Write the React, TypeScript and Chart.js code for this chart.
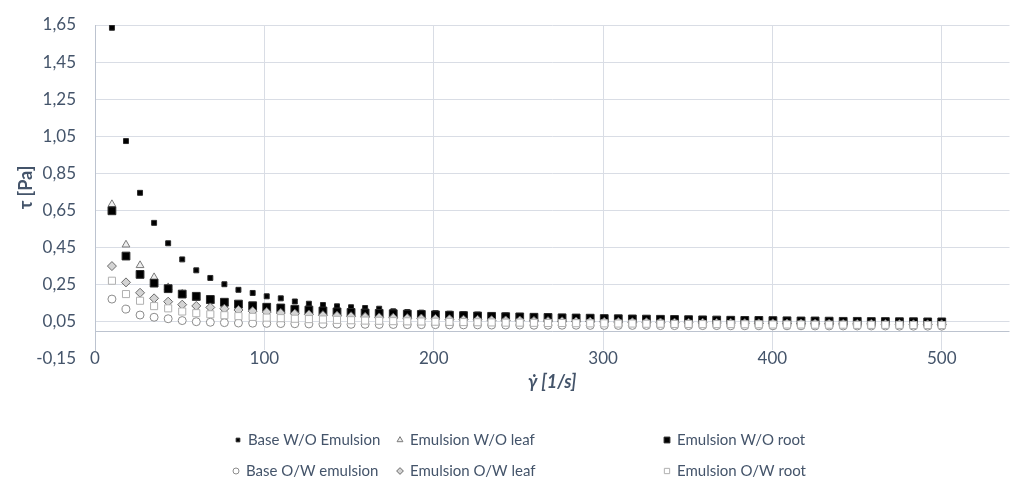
import React, { useEffect, useRef } from 'react';
import { Chart, registerables } from 'chart.js';
import { drawPoint } from 'chart.js/helpers';

Chart.register(...registerables);

const shearRate = [10, 18.3, 26.6, 34.9, 43.2, 51.5, 59.8, 68.1, 76.4, 84.7, 93.1, 101.4, 109.7, 118, 126.3, 134.6, 142.9, 151.2, 159.5, 167.8, 176.1, 184.4, 192.7, 201, 209.3, 217.6, 225.9, 234.2, 242.5, 250.8, 259.2, 267.5, 275.8, 284.1, 292.4, 300.7, 309, 317.3, 325.6, 333.9, 342.2, 350.5, 358.8, 367.1, 375.4, 383.7, 392, 400.3, 408.6, 416.9, 425.2, 433.5, 441.8, 450.1, 458.4, 466.7, 475, 483.3, 491.7, 500];

const baseWO = [1.635, 1.024, 0.745, 0.583, 0.473, 0.386, 0.327, 0.286, 0.252, 0.222,
  0.205, 0.187, 0.176, 0.159, 0.147, 0.14, 0.133, 0.128, 0.124, 0.12,
  0.106, 0.102, 0.099, 0.096, 0.093, 0.09, 0.088, 0.086, 0.083, 0.081,
  0.079, 0.078, 0.076, 0.074, 0.072, 0.071, 0.07, 0.068, 0.067, 0.066,
  0.065, 0.064, 0.063, 0.062, 0.061, 0.06, 0.059, 0.058, 0.057, 0.057,
  0.056, 0.055, 0.054, 0.054, 0.053, 0.052, 0.052, 0.051, 0.051, 0.05];

const leafWO = [0.683, 0.465, 0.354, 0.289, 0.235, 0.2, 0.177, 0.16, 0.146, 0.135,
  0.126, 0.118, 0.111, 0.105, 0.1, 0.095, 0.091, 0.087, 0.084, 0.081,
  0.078, 0.075, 0.073, 0.071, 0.069, 0.067, 0.065, 0.064, 0.062, 0.061,
  0.059, 0.058, 0.057, 0.056, 0.055, 0.054, 0.053, 0.052, 0.051, 0.05,
  0.049, 0.049, 0.048, 0.047, 0.047, 0.046, 0.045, 0.045, 0.044, 0.044,
  0.043, 0.043, 0.042, 0.042, 0.041, 0.041, 0.04, 0.04, 0.04, 0.039];

const rootWO = [0.648, 0.404, 0.305, 0.258, 0.228, 0.199, 0.187, 0.17, 0.155, 0.145,
  0.136, 0.128, 0.124, 0.117, 0.113, 0.108, 0.103, 0.1, 0.097, 0.095,
  0.093, 0.091, 0.089, 0.087, 0.085, 0.083, 0.081, 0.079, 0.077, 0.076,
  0.074, 0.073, 0.071, 0.07, 0.069, 0.067, 0.066, 0.065, 0.064, 0.063,
  0.062, 0.061, 0.06, 0.059, 0.058, 0.057, 0.057, 0.056, 0.055, 0.054,
  0.054, 0.053, 0.052, 0.052, 0.051, 0.051, 0.05, 0.05, 0.049, 0.049];

const baseOW = [0.172, 0.118, 0.086, 0.074, 0.066, 0.056, 0.05, 0.047, 0.045, 0.043,
  0.042, 0.041, 0.04, 0.039, 0.038, 0.037, 0.037, 0.036, 0.036, 0.035,
  0.035, 0.034, 0.034, 0.034, 0.033, 0.033, 0.033, 0.032, 0.032, 0.032,
  0.031, 0.031, 0.031, 0.031, 0.03, 0.03, 0.03, 0.03, 0.03, 0.029,
  0.029, 0.029, 0.029, 0.029, 0.028, 0.028, 0.028, 0.028, 0.028, 0.028,
  0.027, 0.027, 0.027, 0.027, 0.027, 0.027, 0.026, 0.026, 0.026, 0.026];

const leafOW = [0.35, 0.262, 0.206, 0.176, 0.158, 0.142, 0.135, 0.127, 0.12, 0.113,
  0.107, 0.102, 0.097, 0.093, 0.089, 0.085, 0.082, 0.079, 0.076, 0.073,
  0.071, 0.069, 0.067, 0.065, 0.063, 0.061, 0.06, 0.058, 0.057, 0.056,
  0.054, 0.053, 0.052, 0.051, 0.05, 0.049, 0.048, 0.047, 0.047, 0.046,
  0.045, 0.044, 0.044, 0.043, 0.043, 0.042, 0.041, 0.041, 0.04, 0.04,
  0.039, 0.039, 0.038, 0.038, 0.038, 0.037, 0.037, 0.036, 0.036, 0.036];

const rootOW = [0.271, 0.199, 0.163, 0.134, 0.122, 0.105, 0.096, 0.09, 0.085, 0.08,
  0.076, 0.072, 0.069, 0.066, 0.064, 0.062, 0.06, 0.058, 0.056, 0.055,
  0.053, 0.052, 0.051, 0.05, 0.049, 0.048, 0.047, 0.046, 0.045, 0.045,
  0.044, 0.043, 0.043, 0.042, 0.041, 0.041, 0.04, 0.04, 0.039, 0.039,
  0.038, 0.038, 0.037, 0.037, 0.037, 0.036, 0.036, 0.035, 0.035, 0.035,
  0.034, 0.034, 0.034, 0.033, 0.033, 0.033, 0.033, 0.032, 0.032, 0.032];

const seriesNames = ['Base W/O Emulsion', 'Emulsion W/O leaf', 'Emulsion W/O root', 'Base O/W emulsion', 'Emulsion O/W leaf', 'Emulsion O/W root'];
const seriesValues = [baseWO, leafWO, rootWO, baseOW, leafOW, rootOW];
const yTicks = [-0.15, 0.05, 0.25, 0.45, 0.65, 0.85, 1.05, 1.25, 1.45, 1.65];
const xTicks = [0, 100, 200, 300, 400, 500];

const TEXT = '#44546a';
const FONT = "Lato, 'Open Sans', sans-serif";
const GRID = '#d9dde5';
const AXIS = '#bcc3cf';

const markerStyles = [
  { pointStyle: 'rect', radius: 3.5, bg: '#000000', border: '#2a2a2a', bw: 1 },
  { pointStyle: 'triangle', radius: 4.5, bg: '#eeeeee', border: '#7a7a7a', bw: 1 },
  { pointStyle: 'rect', radius: 5.5, bg: '#000000', border: '#2a2a2a', bw: 1 },
  { pointStyle: 'circle', radius: 4, bg: '#ffffff', border: '#8c8c8c', bw: 1 },
  { pointStyle: 'rectRot', radius: 4.5, bg: '#d4d4d4', border: '#6a6a6a', bw: 1 },
  { pointStyle: 'rect', radius: 5, bg: '#ffffff', border: '#b0b0b0', bw: 1 },
];

const legendSlots = [[238, 440], [400, 440], [667, 440], [236, 471], [400, 471], [667, 471]];

const zeroLinePlugin = {
  id: 'zeroLine',
  beforeDatasetsDraw(chart: any) {
    const { ctx, chartArea, scales } = chart;
    const py = Math.round(scales.y.getPixelForValue(0)) + 0.5;
    ctx.save();
    ctx.strokeStyle = AXIS;
    ctx.lineWidth = 1;
    ctx.beginPath();
    ctx.moveTo(chartArea.left, py);
    ctx.lineTo(chartArea.right, py);
    ctx.stroke();
    ctx.restore();
  },
};

const gridLegendPlugin = {
  id: 'gridLegend',
  afterDraw(chart: any) {
    const ctx = chart.ctx;
    ctx.save();
    chart.data.datasets.forEach((ds: any, i: number) => {
      const [x, y] = legendSlots[i];
      ctx.fillStyle = ds.backgroundColor;
      ctx.strokeStyle = ds.borderColor;
      ctx.lineWidth = ds.borderWidth;
      drawPoint(ctx, { pointStyle: ds.pointStyle, radius: ds.pointRadius * 0.75, borderWidth: ds.borderWidth, rotation: 0 } as any, x, y);
      ctx.fillStyle = TEXT;
      ctx.font = `15px ${FONT}`;
      ctx.textBaseline = 'middle';
      ctx.textAlign = 'left';
      ctx.fillText(ds.label, x + 10, y);
    });
    ctx.restore();
  },
};

export default function App() {
  const ref = useRef<HTMLCanvasElement>(null);
  useEffect(() => {
    document.body.style.margin = '0';
    if (!ref.current) return;
    const datasets = seriesNames.map((name, i) => {
      const m = markerStyles[i];
      return {
        label: name,
        data: shearRate.map((x, j) => ({ x, y: seriesValues[i][j] })),
        pointStyle: m.pointStyle,
        pointRadius: m.radius,
        backgroundColor: m.bg,
        borderColor: m.border,
        borderWidth: m.bw,
        showLine: false,
        order: seriesNames.length - i,
      };
    });
    const chart = new Chart(ref.current, {
      type: 'scatter',
      data: { datasets } as any,
      options: {
        animation: false,
        responsive: false,
        layout: { padding: { top: 25, right: 0, bottom: 81, left: 0 } },
        plugins: { legend: { display: false }, tooltip: { enabled: false } },
        scales: {
          x: {
            type: 'linear',
            min: 0,
            max: 540,
            afterBuildTicks: (s: any) => { s.ticks = xTicks.map((v) => ({ value: v })); },
            afterFit: (s: any) => { s.height = 50; s.paddingLeft = 0; s.paddingRight = 0; },
            grid: { color: GRID, drawTicks: false },
            border: { display: false },
            ticks: { padding: -2, color: TEXT, font: { family: FONT, size: 17 }, maxRotation: 0, autoSkip: false },
            title: {
              display: true,
              text: 'γ̇ [1/s]',
              color: TEXT,
              font: { family: FONT, size: 18, weight: 'bold', style: 'italic' },
              padding: { top: 0, bottom: 7 },
            },
          },
          y: {
            type: 'linear',
            min: -0.1026,
            max: 1.65,
            afterBuildTicks: (s: any) => { s.ticks = yTicks.map((v) => ({ value: v })); },
            afterFit: (s: any) => { s.width = 95; s.paddingTop = 0; s.paddingBottom = 0; },
            grid: {
              color: (c: any) => (c.tick && c.tick.value < -0.1 ? 'rgba(0,0,0,0)' : GRID),
              drawTicks: false,
            },
            border: { display: true, color: AXIS },
            ticks: {
              padding: 19,
              color: TEXT,
              font: { family: FONT, size: 17 },
              autoSkip: false,
              callback: (v: any) => Number(v).toFixed(2).replace('.', ','),
            },
            title: {
              display: true,
              text: 'τ [Pa]',
              color: TEXT,
              font: { family: FONT, size: 18, weight: 'bold' },
              padding: { top: 15, bottom: 0 },
            },
          },
        },
      } as any,
      plugins: [zeroLinePlugin, gridLegendPlugin],
    });
    return () => chart.destroy();
  }, []);
  return (
    <div style={{ width: 1016, height: 481, background: '#ffffff' }}>
      <canvas ref={ref} width={1016} height={481} style={{ display: 'block' }} />
    </div>
  );
}
